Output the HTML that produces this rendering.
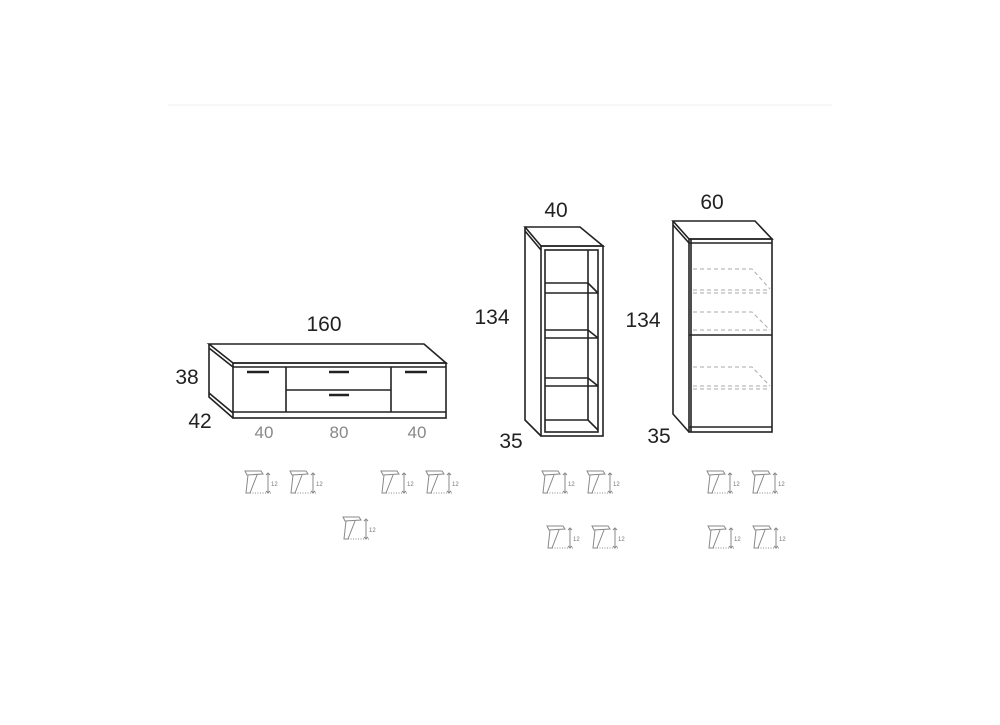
<!DOCTYPE html>
<html><head><style>body{margin:0;background:#fff}svg{display:block}</style></head><body>
<svg width="1000" height="725" viewBox="0 0 1000 725" xmlns="http://www.w3.org/2000/svg" font-family="Liberation Sans, sans-serif">
<defs>
<g id="leg" stroke="#888" fill="none" stroke-width="1">
<path d="M2 0 L18 0 L20 3 L4 4 Z" fill="#fff"/>
<path d="M5 4 L3 22 L7 22 L14 4"/>
<path d="M7 22 L28 22" stroke-dasharray="1,1.5"/>
<path d="M25 2 L25 22 M23 4 L25 2 L27 4 M23 20 L25 22 L27 20"/>
<text x="28" y="15" font-size="6" fill="#777" stroke="none">12</text>
</g>
</defs>
<line x1="168" y1="105" x2="832" y2="105" stroke="#f0f0f0"/>
<g stroke="#222" fill="none" stroke-width="1.6">
<path d="M209 344 L424 344 L446 363 L233 363 Z" fill="#fff"/>
<path d="M209 344 L209 397 L233 418"/>
<path d="M209 348 L233 367"/>
<path d="M209 393 L233 413"/>
<rect x="233" y="363" width="213" height="55"/>
<line x1="233" y1="367" x2="446" y2="367"/>
<line x1="233" y1="412" x2="446" y2="412"/>
<line x1="286" y1="367" x2="286" y2="412"/>
<line x1="391" y1="367" x2="391" y2="412"/>
<line x1="286" y1="390" x2="391" y2="390"/>
<g stroke-width="2.4"><line x1="247" y1="372" x2="269" y2="372"/><line x1="329" y1="372" x2="349" y2="372"/><line x1="329" y1="395" x2="349" y2="395"/><line x1="405" y1="372" x2="427" y2="372"/></g>
<path d="M525 227 L580 227 L603 246 L541 246 Z" fill="#fff"/>
<path d="M525 227 L525 420 L541 436"/>
<path d="M525 231 L541 250"/>
<rect x="541" y="246" width="62" height="190"/>
<rect x="545" y="250" width="53" height="182"/>
<line x1="588" y1="250" x2="588" y2="420"/>
<path d="M545 283 L588 283 L598 293 M545 293 L598 293"/>
<path d="M545 330 L588 330 L598 338 M545 338 L598 338"/>
<path d="M545 378 L588 378 L598 386 M545 386 L598 386"/>
<path d="M545 420 L588 420 L598 430"/>
<path d="M673 221 L755 221 L772 239 L689 239 Z" fill="#fff"/>
<path d="M673 221 L673 414 L689 432"/>
<path d="M673 225 L689 243"/>
<rect x="689" y="239" width="83" height="193"/>
<line x1="689" y1="243" x2="772" y2="243"/>
<line x1="689" y1="427" x2="772" y2="427"/>
<line x1="691" y1="239" x2="691" y2="432"/>
<line x1="689" y1="335" x2="772" y2="335"/>
</g>
<g stroke="#aaa" stroke-dasharray="4,3" fill="none" stroke-width="1">
<path d="M693 269 L752 269 L770 289 M693 290 L770 290 M693 293 L770 293"/>
<path d="M693 312 L752 312 L770 330 M693 330 L770 330"/>
<path d="M693 367 L752 367 L770 386 M693 386 L770 386 M693 389 L770 389"/>
</g>
<g font-size="21" fill="#222" text-anchor="middle">
<text x="324" y="331">160</text>
<text x="187" y="384">38</text>
<text x="200" y="428">42</text>
<text x="556" y="217">40</text>
<text x="492" y="324">134</text>
<text x="511" y="448">35</text>
<text x="712" y="209">60</text>
<text x="643" y="327">134</text>
<text x="659" y="443">35</text>
</g>
<g font-size="17" fill="#888" text-anchor="middle">
<text x="264" y="438">40</text><text x="339" y="438">80</text><text x="417" y="438">40</text>
</g>
<use href="#leg" x="243" y="471"/><use href="#leg" x="288" y="471"/>
<use href="#leg" x="379" y="471"/><use href="#leg" x="424" y="471"/>
<use href="#leg" x="341" y="517"/>
<use href="#leg" x="540" y="471"/><use href="#leg" x="585" y="471"/>
<use href="#leg" x="545" y="526"/><use href="#leg" x="590" y="526"/>
<use href="#leg" x="705" y="471"/><use href="#leg" x="750" y="471"/>
<use href="#leg" x="706" y="526"/><use href="#leg" x="751" y="526"/>
</svg>
</body></html>
